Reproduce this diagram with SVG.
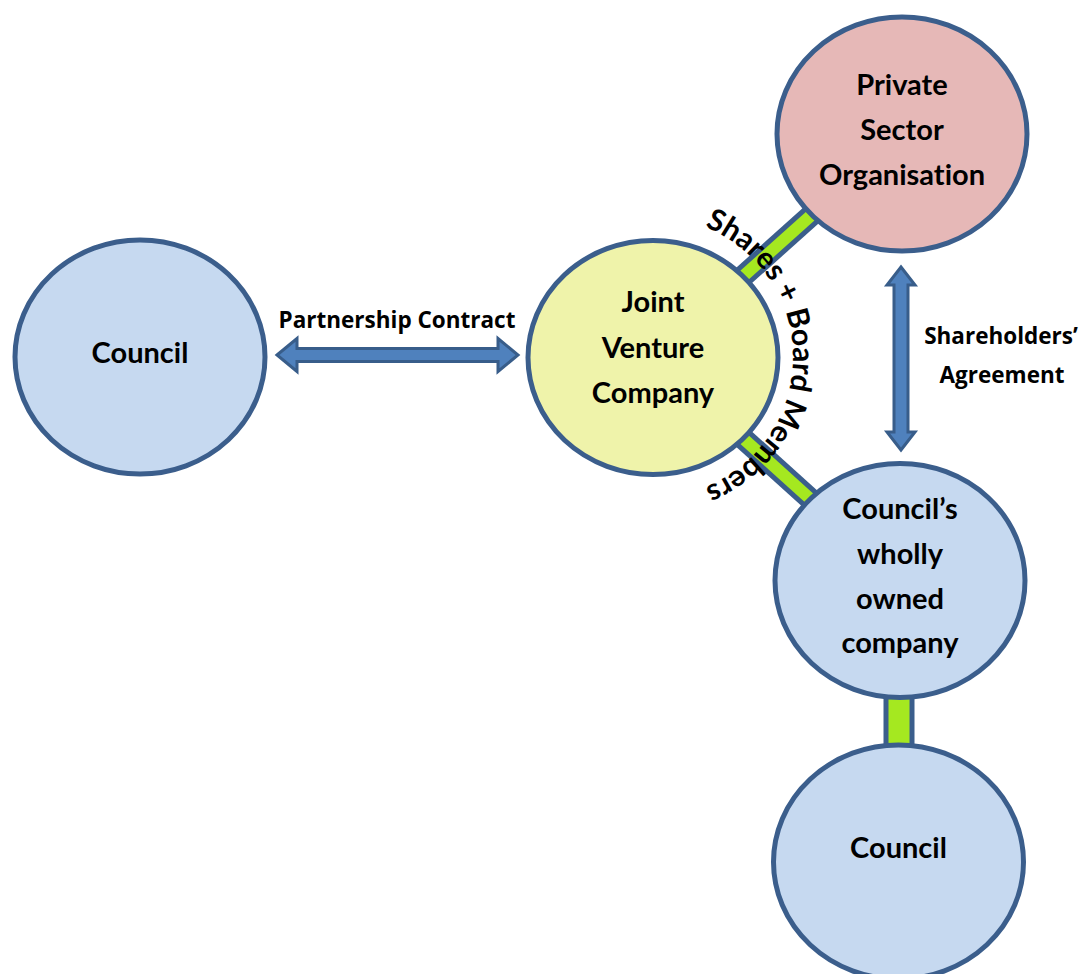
<svg xmlns="http://www.w3.org/2000/svg" xmlns:xlink="http://www.w3.org/1999/xlink" width="1082" height="974" viewBox="0 0 1082 974">
<style>
.node{stroke:#3b5e8c;stroke-width:5}
.blue{fill:#c6d9f0}
.yellow{fill:#eff3aa}
.pink{fill:#e6b8b7}
.lbl{font-family:Lato,"Open Sans","Liberation Sans",sans-serif;font-weight:700;font-size:29px;fill:#000;text-anchor:middle;font-variant-ligatures:none}
.small{font-family:"Open Sans",Lato,"Liberation Sans",sans-serif;font-weight:700;font-size:22.5px;fill:#000;text-anchor:middle}
.curve{font-family:Lato,"Open Sans","Liberation Sans",sans-serif;font-weight:700;font-size:30px;fill:#000}
.linkout{stroke:#3b5e8c;fill:none}
.linkin{stroke:#a5e820;fill:none}
.arrow{fill:#4f81bd;stroke:#385d8a;stroke-width:3;stroke-linejoin:miter}
</style>
<defs>
<path id="arc" d="M 653 217 A 140 140 0 0 1 653 497"/>
</defs>
<rect width="1082" height="974" fill="#fff"/>
<g id="connectors">
<line class="linkout" x1="653" y1="357" x2="902" y2="134" stroke-width="22"/>
<line class="linkin" x1="653" y1="357" x2="902" y2="134" stroke-width="12"/>
<line class="linkout" x1="653" y1="357" x2="900" y2="580" stroke-width="22"/>
<line class="linkin" x1="653" y1="357" x2="900" y2="580" stroke-width="12"/>
<line class="linkout" x1="899" y1="580" x2="899" y2="862" stroke-width="31"/>
<line class="linkin" x1="899" y1="580" x2="899" y2="862" stroke-width="21"/>
<polygon class="arrow" points="277,355 297,338.5 297,348.5 498,348.5 498,338.5 518,355 498,371.5 498,361.5 297,361.5 297,371.5"/>
<polygon class="arrow" points="901,267 915,285 908,285 908,432 915,432 901,450 887,432 894,432 894,285 887,285"/>
<text class="small" x="397" y="328">Partnership Contract</text>
<text class="small" x="1001" y="344">Shareholders’</text>
<text class="small" x="1002" y="383">Agreement</text>
<text class="curve"><textPath xlink:href="#arc" href="#arc" startOffset="50%" text-anchor="middle">Shares + Board Members</textPath></text>
</g>
<g id="council-left">
<ellipse class="node blue" cx="140" cy="357" rx="125" ry="117"/>
<text class="lbl" x="140" y="363">Council</text>
</g>
<g id="jvc">
<ellipse class="node yellow" cx="653" cy="357.5" rx="125" ry="117"/>
<text class="lbl" x="653" y="312">Joint</text>
<text class="lbl" x="653" y="358">Venture</text>
<text class="lbl" x="653" y="403">Company</text>
</g>
<g id="private">
<ellipse class="node pink" cx="902" cy="134" rx="125" ry="117"/>
<text class="lbl" x="902" y="95">Private</text>
<text class="lbl" x="902" y="140">Sector</text>
<text class="lbl" x="902" y="185">Organisation</text>
</g>
<g id="council-owned">
<ellipse class="node blue" cx="900" cy="580.5" rx="125" ry="117"/>
<text class="lbl" x="900" y="519">Council’s</text>
<text class="lbl" x="900" y="564">wholly</text>
<text class="lbl" x="900" y="609">owned</text>
<text class="lbl" x="900" y="653">company</text>
</g>
<g id="council-bottom">
<ellipse class="node blue" cx="898.5" cy="862" rx="125" ry="117"/>
<text class="lbl" x="898.5" y="858">Council</text>
</g>
</svg>
